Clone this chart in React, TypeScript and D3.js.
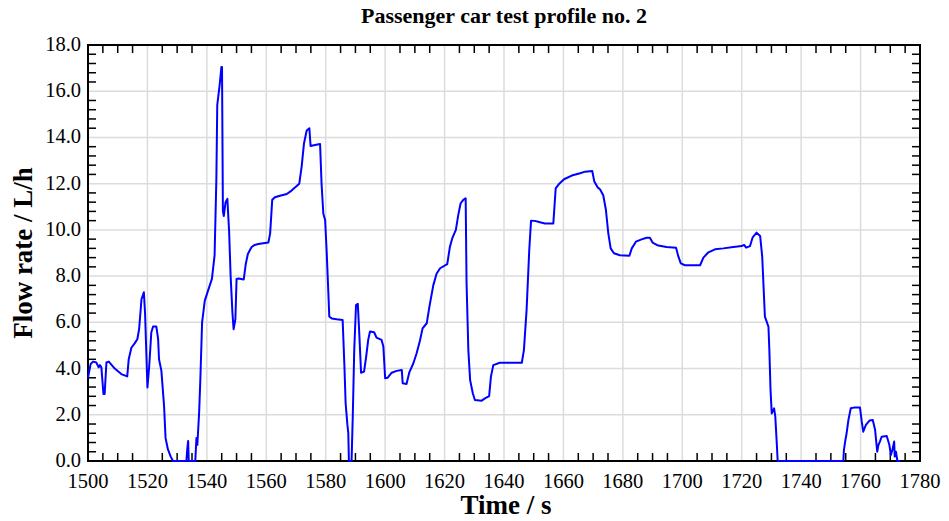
import { useEffect } from "react";
import { scaleLinear, line, range } from "d3";

const chartTitle = "Passenger car test profile no. 2";
const xTitle = "Time / s";
const yTitle = "Flow rate / L/h";

const xMajorTicks = [1500, 1520, 1540, 1560, 1580, 1600, 1620, 1640, 1660, 1680, 1700, 1720, 1740, 1760, 1780];
const yMajorTicks = [0, 2, 4, 6, 8, 10, 12, 14, 16, 18];

const times = [
  1500.0, 1500.9, 1501.7, 1502.8, 1503.6, 1504.0, 1504.5, 1505.2, 1505.6, 1506.2,
  1507.0, 1509.0, 1511.2, 1513.2, 1513.7, 1514.6, 1515.7, 1516.6, 1517.2, 1518.0,
  1518.8, 1519.2, 1520.0, 1520.6, 1521.3, 1521.9, 1523.0, 1523.6, 1523.9, 1524.7,
  1525.6, 1526.1, 1526.9, 1527.8, 1528.6, 1533.1, 1533.4, 1533.7, 1533.9, 1536.1,
  1536.5, 1536.8, 1537.4, 1537.8, 1538.4, 1539.3, 1540.4, 1541.7, 1542.6, 1543.2,
  1543.5, 1544.3, 1544.9, 1545.1, 1545.4, 1545.7, 1546.3, 1546.9, 1547.5, 1548.0,
  1548.6, 1549.0, 1549.6, 1550.0, 1550.7, 1552.4, 1553.1, 1553.8, 1555.0, 1556.1,
  1557.3, 1560.7, 1561.3, 1562.0, 1562.9, 1564.6, 1566.9, 1568.5, 1571.1, 1571.9,
  1572.7, 1573.6, 1574.5, 1574.9, 1576.4, 1578.1, 1578.6, 1579.2, 1579.8, 1580.3,
  1580.9, 1581.2, 1582.0, 1583.7, 1585.7, 1586.3, 1586.7, 1587.3, 1587.6, 1587.8,
  1588.7, 1589.1, 1589.6, 1590.2, 1590.8, 1591.3, 1591.9, 1592.9, 1593.6, 1594.3,
  1594.9, 1596.3, 1597.1, 1598.8, 1599.4, 1600.0, 1600.8, 1602.2, 1603.9, 1605.6,
  1605.9, 1607.2, 1608.1, 1609.5, 1610.6, 1611.7, 1612.6, 1614.0, 1614.9, 1616.2,
  1617.3, 1618.5, 1620.9, 1621.8, 1622.6, 1623.8, 1624.6, 1625.4, 1626.3, 1627.1,
  1627.4, 1628.0, 1628.6, 1629.5, 1630.2, 1632.5, 1633.6, 1635.0, 1635.6, 1636.4,
  1638.6, 1646.0, 1646.7, 1647.6, 1648.5, 1649.1, 1650.4, 1652.1, 1653.8, 1656.6,
  1657.4, 1658.6, 1660.2, 1662.8, 1665.6, 1667.3, 1669.7, 1670.4, 1671.5, 1672.3,
  1673.4, 1674.3, 1675.1, 1675.9, 1677.0, 1679.0, 1682.2, 1683.0, 1684.4, 1686.3,
  1688.0, 1689.1, 1690.0, 1691.9, 1694.7, 1697.9, 1698.7, 1699.5, 1700.9, 1706.0,
  1707.1, 1708.8, 1711.0, 1713.8, 1717.2, 1720.0, 1720.8, 1721.5, 1722.8, 1723.7,
  1725.0, 1726.2, 1726.9, 1727.8, 1728.4, 1729.0, 1729.3, 1729.7, 1730.1, 1730.9,
  1731.3, 1731.8, 1732.1, 1754.2, 1754.4, 1754.9, 1755.3, 1755.9, 1756.7, 1758.1,
  1759.8, 1760.4, 1760.9, 1761.8, 1763.0, 1764.1, 1764.9, 1765.6, 1766.0, 1766.5,
  1767.1, 1768.8, 1769.7, 1770.2, 1770.7, 1771.3, 1771.5, 1771.9, 1772.4, 1773.3,
];

const flowRates = [
  3.6, 4.2, 4.3, 4.26, 4.05, 4.15, 4.05, 2.9, 2.9, 4.26,
  4.3, 4.0, 3.76, 3.66, 4.4, 4.9, 5.09, 5.27, 5.7, 7.0,
  7.3, 6.4, 3.18, 4.1, 5.56, 5.82, 5.82, 5.27, 4.4, 3.9,
  2.38, 1.0, 0.5, 0.2, 0, 0, 0.5, 0.87, 0, 0,
  1.0, 0.7, 2.1, 3.5, 6.0, 6.94, 7.37, 7.88, 8.9, 12.2,
  15.4, 16.26, 17.05, 17.05, 10.8, 10.6, 11.2, 11.34, 9.9, 8.0,
  6.43, 5.7, 6.14, 7.88, 7.9, 7.85, 8.53, 8.96, 9.25, 9.35,
  9.39, 9.45, 9.85, 11.3, 11.41, 11.48, 11.55, 11.7, 12.0, 12.74,
  13.75, 14.3, 14.4, 13.63, 13.67, 13.72, 12.0, 10.7, 10.43, 9.13,
  7.25, 6.25, 6.17, 6.13, 6.1, 4.08, 2.5, 1.56, 1.2, 0,
  0, 1.9, 4.8, 6.75, 6.8, 5.5, 3.82, 3.87, 4.5, 5.24,
  5.6, 5.57, 5.34, 5.24, 4.95, 3.58, 3.6, 3.82, 3.9, 3.94,
  3.36, 3.33, 3.82, 4.23, 4.66, 5.2, 5.74, 5.96, 6.68, 7.6,
  8.1, 8.34, 8.52, 9.27, 9.64, 10.0, 10.64, 11.15, 11.3, 11.37,
  7.7, 4.8, 3.5, 2.93, 2.64, 2.61, 2.71, 2.81, 3.65, 4.15,
  4.25, 4.25, 4.8, 6.53, 9.13, 10.4, 10.39, 10.33, 10.28, 10.28,
  11.8, 12.0, 12.19, 12.35, 12.45, 12.52, 12.55, 12.09, 11.84, 11.76,
  11.5, 10.86, 9.85, 9.2, 8.99, 8.9, 8.88, 9.2, 9.49, 9.59,
  9.66, 9.66, 9.45, 9.32, 9.26, 9.23, 8.84, 8.55, 8.47, 8.47,
  8.8, 9.03, 9.16, 9.2, 9.26, 9.3, 9.35, 9.23, 9.3, 9.68,
  9.88, 9.74, 8.84, 6.25, 6.03, 5.81, 4.8, 3.07, 2.06, 2.28,
  1.92, 0.76, 0, 0, 0.48, 0.91, 1.2, 1.77, 2.28, 2.32,
  2.31, 1.7, 1.27, 1.56, 1.75, 1.77, 1.34, 0.4, 0.69, 0.84,
  1.05, 1.08, 0.69, 0.26, 0.48, 0.84, 0.19, 0.4, 0, 0,
];

const FONT = "'Liberation Serif', 'Times New Roman', serif";

export default function App() {
  const width = 949;
  const height = 521;
  const left = 88;
  const right = 920;
  const top = 45;
  const bottom = 461;
  const tickLen = 8;

  useEffect(() => {
    document.body.style.margin = "0";
  }, []);

  const x = scaleLinear().domain([1500, 1780]).range([left, right]);
  const y = scaleLinear().domain([0, 18]).range([bottom, top]);

  // minor ticks only, majors get gridlines
  const xMinor = range(1505, 1780, 5).filter((t) => t % 20 !== 0);
  const yMinor = range(1, 45)
    .map((i) => +(i * 0.4).toFixed(1))
    .filter((v) => Math.abs(v / 2 - Math.round(v / 2)) > 1e-6);

  const pts = times.map((t, i) => [t, flowRates[i]] as [number, number]);
  const path = line<[number, number]>()
    .x((d) => x(d[0]))
    .y((d) => y(d[1]))(pts);

  return (
    <svg width={width} height={height} style={{ display: "block", background: "#fff" }}>
      <text x={(left + right) / 2} y={23} textAnchor="middle" fontFamily={FONT} fontWeight="bold" fontSize={22}>
        {chartTitle}
      </text>

      {/* grid */}
      {xMajorTicks.slice(1, -1).map((t) => (
        <line key={`gx-${t}`} x1={x(t)} x2={x(t)} y1={top} y2={bottom} stroke="#dcdcdc" strokeWidth={1.5} />
      ))}
      {yMajorTicks.slice(1, -1).map((v) => (
        <line key={`gy-${v}`} x1={left} x2={right} y1={y(v)} y2={y(v)} stroke="#dcdcdc" strokeWidth={1.5} />
      ))}

      {/* minor ticks, inward on all sides */}
      {xMinor.map((t) => (
        <g key={`tx-${t}`} stroke="#000" strokeWidth={1.5}>
          <line x1={x(t)} x2={x(t)} y1={bottom} y2={bottom - tickLen} />
          <line x1={x(t)} x2={x(t)} y1={top} y2={top + tickLen} />
        </g>
      ))}
      {yMinor.map((v) => (
        <g key={`ty-${v}`} stroke="#000" strokeWidth={1.5}>
          <line x1={left} x2={left + tickLen} y1={y(v)} y2={y(v)} />
          <line x1={right} x2={right - tickLen} y1={y(v)} y2={y(v)} />
        </g>
      ))}

      <rect x={left} y={top} width={right - left} height={bottom - top} fill="none" stroke="#000" strokeWidth={2} />

      <path d={path ?? ""} fill="none" stroke="#0000ff" strokeWidth={2} strokeLinejoin="round" />

      {/* tick labels */}
      {xMajorTicks.map((t) => (
        <text key={`lx-${t}`} x={x(t)} y={bottom + 27} textAnchor="middle" fontFamily={FONT} fontSize={20.5}>
          {t}
        </text>
      ))}
      {yMajorTicks.map((v) => (
        <text key={`ly-${v}`} x={left - 7} y={y(v) + 6} textAnchor="end" fontFamily={FONT} fontSize={20.5}>
          {v.toFixed(1)}
        </text>
      ))}

      <text x={(left + right) / 2 + 2} y={514} textAnchor="middle" fontFamily={FONT} fontWeight="bold" fontSize={27}>
        {xTitle}
      </text>
      <text
        transform={`translate(32, ${(top + bottom) / 2}) rotate(-90)`}
        textAnchor="middle"
        fontFamily={FONT}
        fontWeight="bold"
        fontSize={27}
      >
        {yTitle}
      </text>
    </svg>
  );
}
